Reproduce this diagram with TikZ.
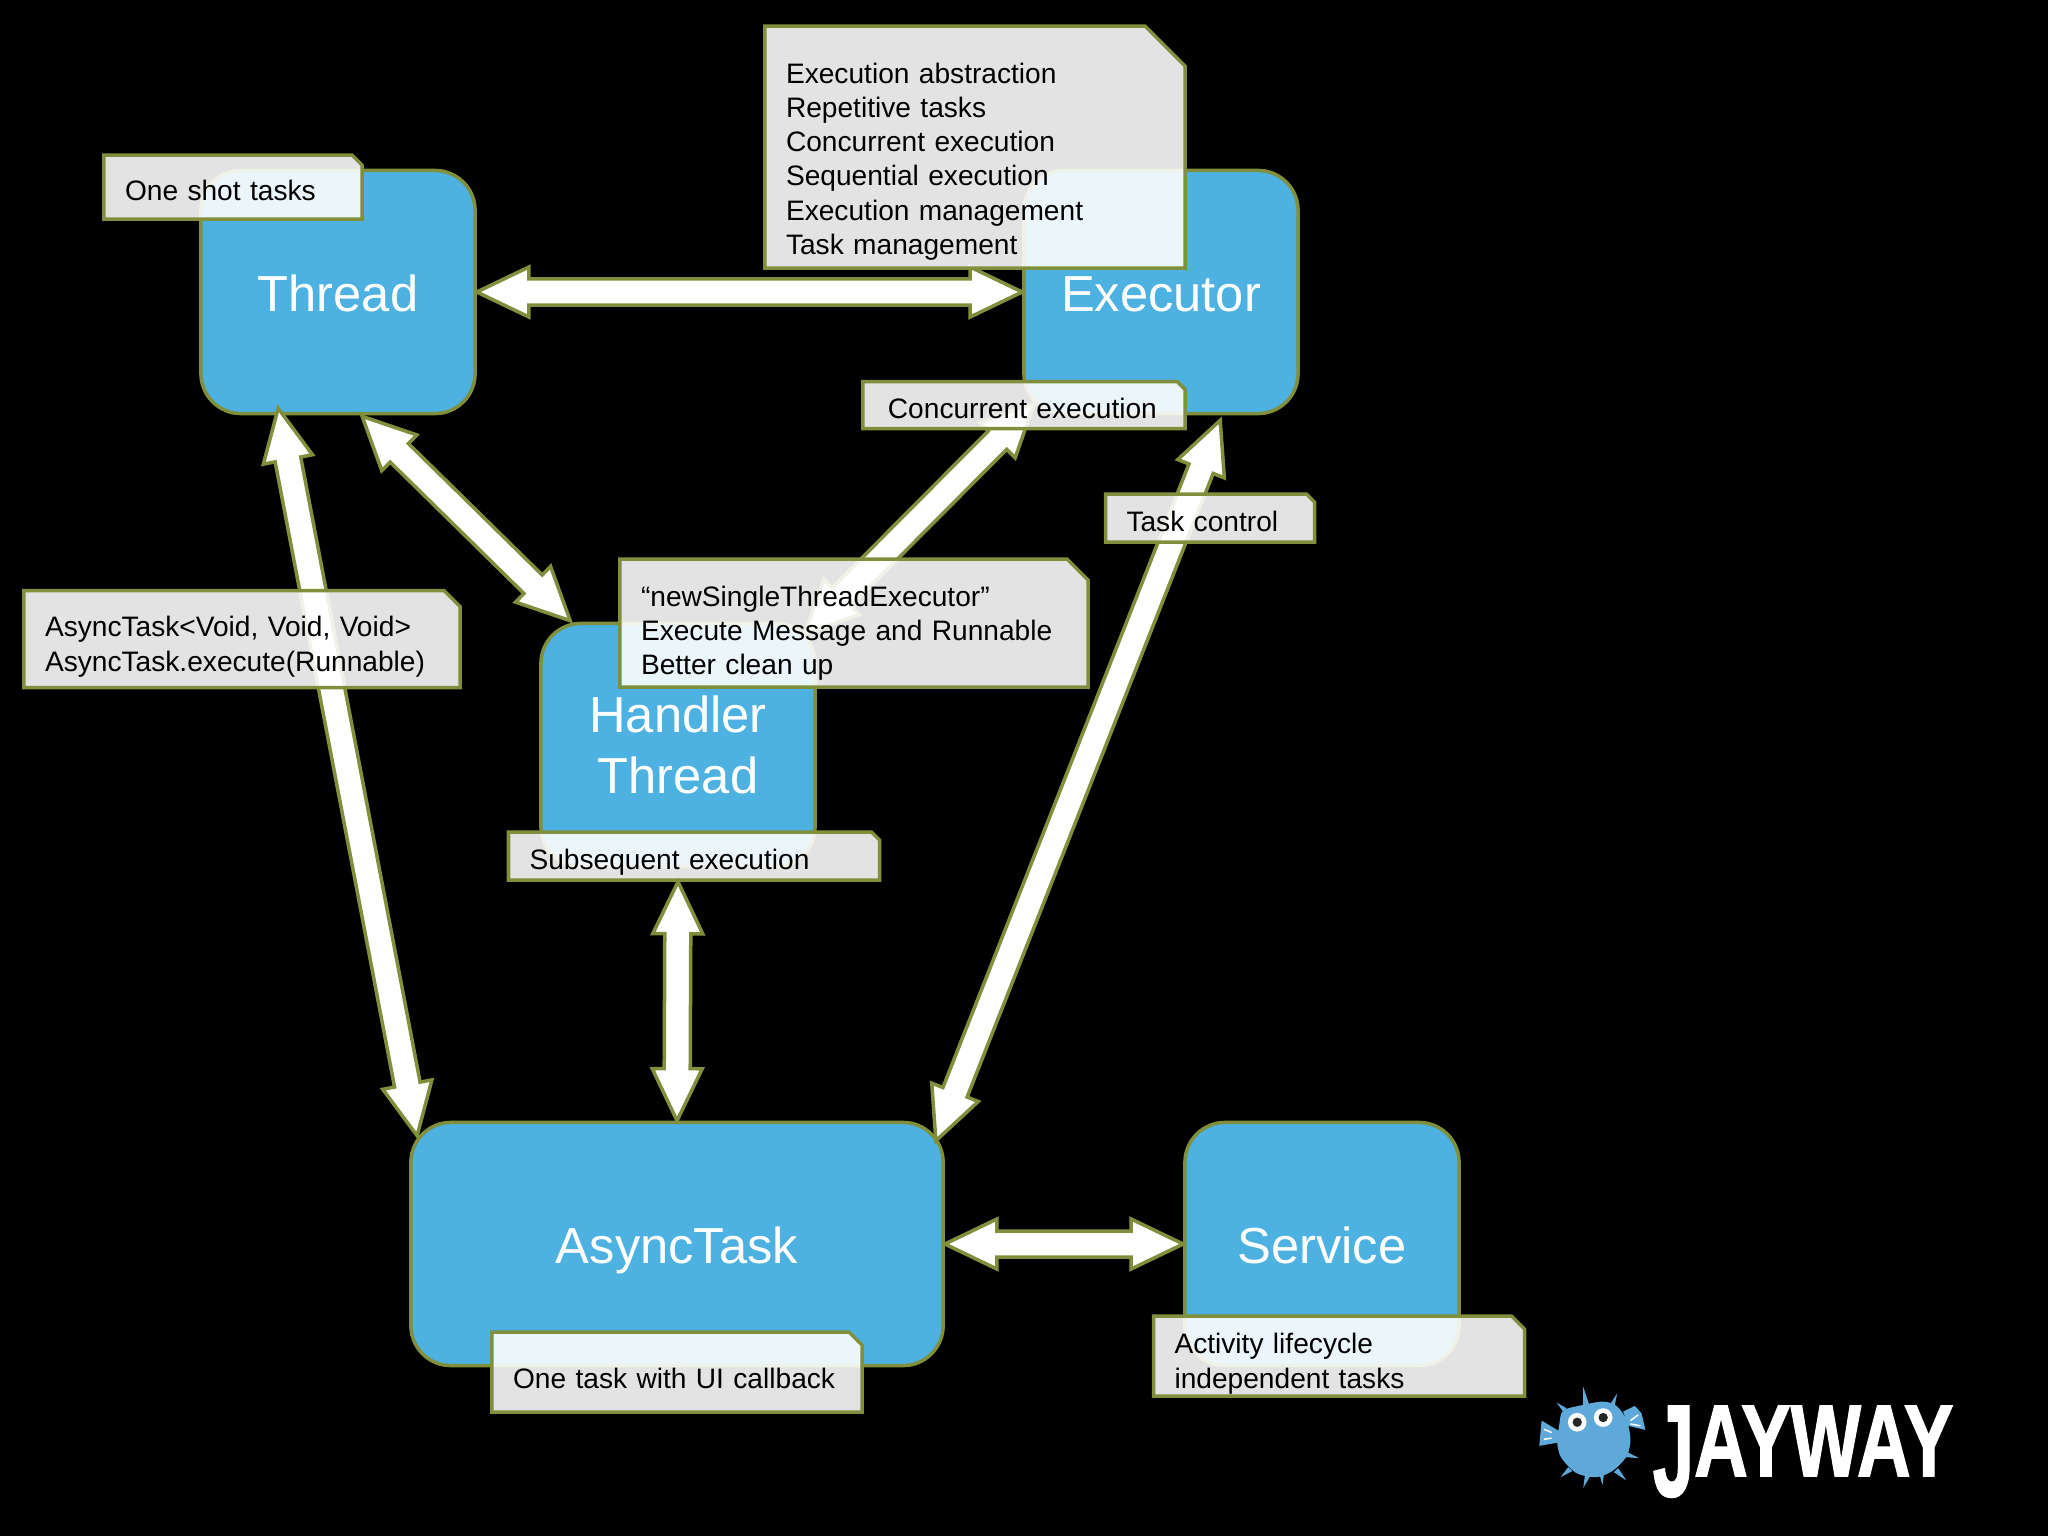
\documentclass[tikz,border=0pt]{standalone}
\usepackage{fontspec}
\setmainfont{Liberation Sans}
\newfontfamily\logofont{Liberation Sans Bold}[FakeBold=1.5]
\usetikzlibrary{calc,shapes.misc}
\definecolor{boxblue}{HTML}{4DB1E1}
\definecolor{edgeolive}{HTML}{7F8F3C}
\definecolor{fishblue}{HTML}{5EA9D9}
\tikzset{
	taskbox/.style={draw=edgeolive, line width=.035cm, fill=boxblue, text=white, rounded corners=.4cm, align=center,
		minimum width=2.74cm, minimum height=2.43cm, inner sep=0pt, text height=11pt, text depth=0pt,
		font=\fontsize{14.4}{17.5}\selectfont},
	notebox/.style n args={3}{chamfered rectangle, chamfered rectangle corners=north east,
		chamfered rectangle xsep=#3*.005cm, chamfered rectangle ysep=#3*.005cm,
		draw=edgeolive, line width=.035cm, fill=white, fill opacity=.89, text opacity=1,
		inner xsep=(21-#3/2)*.01cm, inner ysep=-#3*.005cm, minimum width=#1*.01cm, minimum height=#2*.01cm,
		text width=(#1-42)*.01cm, align=left, font=\fontsize{8}{9.7}\selectfont},
	arrowline/.style={draw=edgeolive, line width=.035cm, fill=white, line join=miter}
}
\newcommand{\blockarrow}[2]{%
	\draw[arrowline] (#1) -- ($(#1)!.52cm!(#2)!.25cm!90:(#2)$) -- ($(#1)!.52cm!(#2)!.13cm!90:(#2)$)
		-- ($(#2)!.52cm!(#1)!.13cm!-90:(#1)$) -- ($(#2)!.52cm!(#1)!.25cm!-90:(#1)$) -- (#2)
		-- ($(#2)!.52cm!(#1)!.25cm!90:(#1)$) -- ($(#2)!.52cm!(#1)!.13cm!90:(#1)$)
		-- ($(#1)!.52cm!(#2)!.13cm!-90:(#2)$) -- ($(#1)!.52cm!(#2)!.25cm!-90:(#2)$) -- cycle;}
\begin{document}
\begin{tikzpicture}[x=.01cm, y=-.01cm]
	\fill[black] (0,0) rectangle (2048,1536);

	% blue boxes
	\node[taskbox] (thread) at (338,292) {Thread};
	\node[taskbox] (executor) at (1161,292) {Executor};
	\node[taskbox, text height=, text depth=] (handler) at (678,745) {Handler\\Thread};
	\node[taskbox, minimum width=5.32cm] (async) at (677,1244) {AsyncTask};
	\node[taskbox] (service) at (1322,1244) {Service};

	% arrow ends
	\coordinate (threadsw) at ([shift={(79,-7)}]thread.south west);
	\coordinate (threadse) at ([shift={(163,1)}]thread.south west);
	\coordinate (handlernw) at ([shift={(31,-1)}]handler.north west);
	\coordinate (handlerne) at ([shift={(-12,12)}]handler.north east);
	\coordinate (executorsw) at ([shift={(12,-12)}]executor.south west);
	\coordinate (executorse) at ([shift={(198,5)}]executor.south west);
	\coordinate (asyncnw) at ([shift={(8,15)}]async.north west);
	\coordinate (asyncne) at ([shift={(-9,20)}]async.north east);

	\blockarrow{thread.east}{executor.west}
	\blockarrow{threadse}{handlernw}
	\blockarrow{handlerne}{executorsw}
	\blockarrow{threadsw}{asyncnw}
	\blockarrow{executorse}{asyncne}
	\blockarrow{async.east}{service.west}

	% notes
	\node[notebox={258}{64}{10}] (oneshot) at (233,187) {\rule{0pt}{8pt}One shot tasks};
	\node[notebox={420}{242}{40}] (abstraction) at (975,147) {\rule{0pt}{4.4pt}\\Execution abstraction\\Repetitive tasks\\Concurrent execution\\Sequential execution\\Execution management\\Task management};
	\node[notebox={322}{47}{8}, inner xsep=.21cm, text width=2.72cm] (concurrent) at (1024,405) {\rule{0pt}{8pt}Concurrent execution};
	\node[notebox={209}{48}{8}] (taskcontrol) at (1210,518) {\rule{0pt}{8pt}Task control};
	\node[notebox={468}{128}{21}] (single) at (854,623) {\rule{0pt}{11.7pt}“newSingleThreadExecutor”\\Execute Message and Runnable\\Better clean up};
	\node[notebox={436}{97}{16}] (voidnote) at (242,639) {\rule{0pt}{10.2pt}AsyncTask<Void, Void, Void>\\AsyncTask.execute(Runnable)};
	\node[notebox={371}{48}{8}] (subsequent) at (694,856) {\rule{0pt}{9.5pt}Subsequent execution};
	\node[notebox={370}{80}{13}] (onetask) at (677,1372) {\rule{0pt}{9.5pt}One task with UI callback};
	\node[notebox={371}{80}{13}] (activity) at (1339,1356) {\rule{0pt}{10.2pt}Activity lifecycle\\independent tasks};

	\coordinate (subsequentend) at (handler.south |- subsequent.south);
	\blockarrow{subsequentend}{async.north}

	% logo
	\node[text=white, font=\fontsize{29}{29}\logofont, anchor=base west, inner sep=0pt] (logotext) at (1652,1476)
		{\scalebox{.73}[1]{\raisebox{-.2cm}{\scalebox{1}[1.28]{J}}AYWAY}};
	\begin{scope}[shift={(1500,1350)}, x=.003333cm, y=-.003333cm]
		\fill[fishblue] plot[smooth cycle] coordinates {(190,182) (250,165) (310,155) (350,168) (380,210) (392,270) (380,320) (340,362) (290,382) (230,370) (185,325) (172,280) (178,225)};
		% fins
		\fill[fishblue] (125,212) -- (180,245) -- (175,278) -- (118,288) -- cycle;
		\fill[fishblue] (405,168) -- (425,190) -- (437,240) -- (385,228) -- (370,185) -- cycle;
		% spikes
		\fill[fishblue] (250,110) -- (268,165) -- (250,170) -- cycle;
		\fill[fishblue] (352,130) -- (345,165) -- (333,160) -- cycle;
		\fill[fishblue] (170,158) -- (200,175) -- (190,185) -- cycle;
		\fill[fishblue] (418,325) -- (378,322) -- (385,308) -- cycle;
		\fill[fishblue] (380,392) -- (342,367) -- (355,355) -- cycle;
		\fill[fishblue] (250,415) -- (255,378) -- (270,380) -- cycle;
		\fill[fishblue] (308,405) -- (300,378) -- (312,376) -- cycle;
		\fill[fishblue] (182,382) -- (205,352) -- (217,364) -- cycle;
		\draw[white, line width=.015cm] (132,238) -- (155,248) (132,268) -- (155,265) (392,212) -- (415,195) (392,222) -- (422,228);
		\fill[white] (232,217) circle[radius=28] (310,203) circle[radius=28];
		\fill[black!85] (232,217) circle[radius=14] (310,203) circle[radius=14];
	\end{scope}
\end{tikzpicture}
\end{document}
